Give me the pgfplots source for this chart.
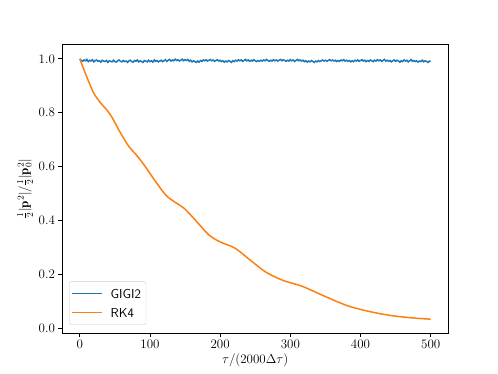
\RequirePackage{fix-cm}
\documentclass[border=0pt]{standalone}
\usepackage{fontspec}
\usepackage{pgfplots}
\pgfplotsset{compat=1.18}
\definecolor{c0}{HTML}{1F77B4}
\definecolor{c1}{HTML}{FF7F0E}
\newcommand\fs{\fontsize{13bp}{15.6bp}\selectfont}
\begin{document}
\begin{tikzpicture}[font=\fs]
\path[use as bounding box] (0,0) rectangle (498bp,374bp);
\begin{axis}[
  at={(62.25bp,41.1bp)}, anchor=south west,
  scale only axis, width=386bp, height=288bp,
  xmin=-25, xmax=525, ymin=-0.018, ymax=1.052,
  xtick={0,100,200,300,400,500},
  ytick={0,0.2,0.4,0.6,0.8,1.0},
  tick label style={font=\fs},
  label style={font=\fs},
  yticklabel style={/pgf/number format/.cd, fixed, fixed zerofill, precision=1},
  tick align=outside, tick pos=left,
  major tick length=3.8bp,
  every tick/.style={black, line width=0.8bp},
  axis line style={line width=0.8bp},
  xlabel={$\tau/(2000\Delta\tau)$},
  ylabel={$\frac{1}{2}|\mathbf{p}^2|/\frac{1}{2}|\mathbf{p}_0^2|$},
  xlabel style={yshift=2bp},
  ylabel style={yshift=-1bp},
  legend style={at={(0.0175,0.0285)}, anchor=south west, draw=black!20, rounded corners=2bp, font=\sffamily\fs, row sep=3.8bp, column sep=5bp, inner xsep=2bp, inner ysep=4bp, nodes={inner sep=3bp, text height=9.5bp, text depth=0bp}},
  legend cell align=left,
]
\addplot[c0, line width=1.5bp, legend image code/.code={\draw[c0, line width=1.5bp] (0bp,0bp) -- (30bp,0bp);}] coordinates {
(0,1.000)(2,0.994)(4,0.991)(6,0.996)(8,0.993)(10,0.998)(12,0.990)(14,0.995)(16,0.992)(18,0.997)
(20,0.989)(22,0.994)(24,0.996)(26,0.991)(28,0.993)(30,0.988)(32,0.995)(34,0.992)(36,0.990)(38,0.994)
(40,0.987)(42,0.993)(44,0.991)(46,0.989)(48,0.995)(50,0.990)(52,0.988)(54,0.993)(56,0.996)(58,0.991)
(60,0.989)(62,0.994)(64,0.990)(66,0.992)(68,0.987)(70,0.993)(72,0.995)(74,0.990)(76,0.988)(78,0.994)
(80,0.991)(82,0.996)(84,0.989)(86,0.993)(88,0.990)(90,0.987)(92,0.994)(94,0.992)(96,0.989)(98,0.995)
(100,0.990)(102,0.993)(104,0.988)(106,0.996)(108,0.991)(110,0.994)(112,0.989)(114,0.992)(116,0.995)(118,0.990)
(120,0.993)(122,0.997)(124,0.991)(126,0.995)(128,0.998)(130,0.992)(132,0.996)(134,0.993)(136,0.999)(138,0.994)
(140,0.997)(142,0.992)(144,0.995)(146,0.999)(148,0.993)(150,0.997)(152,0.994)(154,0.998)(156,0.991)(158,0.995)
(160,0.989)(162,0.993)(164,0.990)(166,0.987)(168,0.992)(170,0.988)(172,0.994)(174,0.991)(176,0.996)(178,0.993)
(180,0.997)(182,0.992)(184,0.995)(186,0.998)(188,0.993)(190,0.996)(192,0.991)(194,0.994)(196,0.997)(198,0.992)
(200,0.995)(202,0.990)(204,0.993)(206,0.988)(208,0.992)(210,0.989)(212,0.994)(214,0.991)(216,0.987)(218,0.993)
(220,0.990)(222,0.995)(224,0.992)(226,0.997)(228,0.993)(230,0.996)(232,0.991)(234,0.994)(236,0.998)(238,0.993)
(240,0.996)(242,0.991)(244,0.995)(246,0.992)(248,0.997)(250,0.993)(252,0.990)(254,0.994)(256,0.991)(258,0.995)
(260,0.992)(262,0.996)(264,0.993)(266,0.998)(268,0.994)(270,0.991)(272,0.995)(274,0.992)(276,0.997)(278,0.993)
(280,0.996)(282,0.992)(284,0.995)(286,0.998)(288,0.993)(290,0.997)(292,0.994)(294,0.991)(296,0.995)(298,0.992)
(300,0.997)(302,0.993)(304,0.996)(306,0.991)(308,0.994)(310,0.998)(312,0.993)(314,0.996)(316,0.992)(318,0.995)
(320,0.990)(322,0.993)(324,0.988)(326,0.992)(328,0.989)(330,0.994)(332,0.991)(334,0.987)(336,0.992)(338,0.989)
(340,0.994)(342,0.990)(344,0.993)(346,0.996)(348,0.992)(350,0.995)(352,0.991)(354,0.994)(356,0.997)(358,0.993)
(360,0.996)(362,0.992)(364,0.995)(366,0.990)(368,0.994)(370,0.991)(372,0.996)(374,0.993)(376,0.997)(378,0.992)
(380,0.995)(382,0.991)(384,0.994)(386,0.989)(388,0.993)(390,0.990)(392,0.995)(394,0.992)(396,0.996)(398,0.991)
(400,0.994)(402,0.997)(404,0.992)(406,0.995)(408,0.990)(410,0.994)(412,0.991)(414,0.996)(416,0.993)(418,0.990)
(420,0.995)(422,0.992)(424,0.997)(426,0.993)(428,0.996)(430,0.991)(432,0.994)(434,0.998)(436,0.992)(438,0.995)
(440,0.991)(442,0.994)(444,0.989)(446,0.993)(448,0.996)(450,0.991)(452,0.995)(454,0.992)(456,0.988)(458,0.993)
(460,0.990)(462,0.996)(464,0.992)(466,0.995)(468,0.989)(470,0.993)(472,0.997)(474,0.991)(476,0.994)(478,0.990)
(480,0.993)(482,0.988)(484,0.992)(486,0.990)(488,0.995)(490,0.989)(492,0.993)(494,0.991)(496,0.987)(498,0.992)
(500,0.990)
};
\addlegendentry{GIGI2}
\addplot[c1, line width=1.5bp, smooth, tension=0.5, legend image code/.code={\draw[c1, line width=1.5bp] (0bp,0bp) -- (30bp,0bp);}] coordinates {
(0,1.000)(6,0.959)(12,0.92)(20,0.872)(30,0.835)(38,0.812)(46.5,0.780)(58,0.725)(70,0.674)(80,0.645)(91.6,0.606)(107,0.548)(122.5,0.494)(136,0.467)(148.6,0.445)(165,0.400)(184,0.346)(200,0.320)(217.4,0.302)(227,0.286)(245,0.248)(265,0.208)(288.6,0.178)(317,0.155)(345.6,0.122)(365,0.100)(383.6,0.081)(405,0.066)(426.4,0.054)(445,0.046)(464.4,0.040)(482,0.036)(500,0.033)
};
\addlegendentry{RK4}
\end{axis}
\end{tikzpicture}
\end{document}
